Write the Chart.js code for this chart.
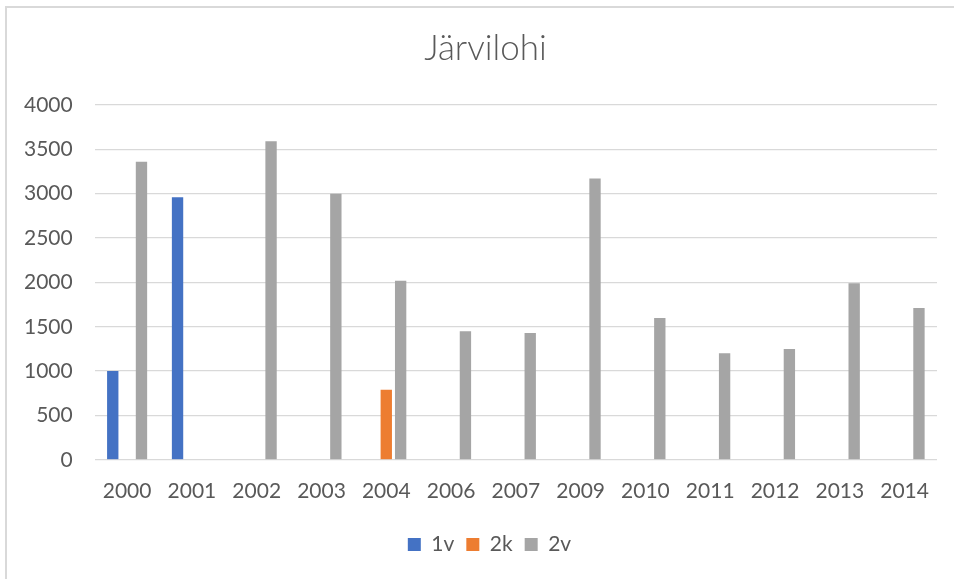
<!DOCTYPE html>
<html>
<head>
<meta charset="utf-8">
<script src="https://cdn.jsdelivr.net/npm/chart.js@4"></script>
<style>
  html, body { margin: 0; padding: 0; background: #fff; overflow: hidden; }
  #wrap { position: relative; width: 954px; height: 579px; }
  #frame { position: absolute; left: 5px; top: 6px; width: 970px; height: 600px;
           border: 2px solid #d9d9d9; box-sizing: border-box; pointer-events: none; }
</style>
</head>
<body>
<div id="wrap">
  <canvas id="chart" width="954" height="579"></canvas>
  <div id="frame"></div>
</div>
<script>
// ----- data -----
const years = ['2000', '2001', '2002', '2003', '2004', '2006', '2007', '2009', '2010', '2011', '2012', '2013', '2014'];

const v1 = [1000, 2960, null, null, null, null, null, null, null, null, null, null, null];
const k2 = [null, null, null, null, 790, null, null, null, null, null, null, null, null];
const v2 = [3360, null, 3590, 3000, 2020, 1450, 1430, 3170, 1600, 1200, 1250, 1990, 1710];

const textColor = '#595959';
const gridColor = '#d9d9d9';
const fontFamily = 'Lato, "Liberation Sans", sans-serif';

function series(label, data, color) {
  return {
    label,
    data,
    backgroundColor: color,
    borderWidth: 0,
    categoryPercentage: 0.665,
    barPercentage: 0.79
  };
}

// Excel centres title and legend on the whole frame, not on the padded box
const centreOnFrame = {
  id: 'centreOnFrame',
  afterLayout(chart) {
    const shift = (box, dx) => { if (box) { box.left += dx; box.right += dx; } };
    shift(chart.titleBlock, 16);
    shift(chart.legend, 20);
  }
};

new Chart(document.getElementById('chart'), {
  type: 'bar',
  data: {
    labels: years,
    datasets: [
      series('1v', v1, '#4472c4'),
      series('2k', k2, '#ed7d31'),
      series('2v', v2, '#a5a5a5')
    ]
  },
  plugins: [centreOnFrame],
  options: {
    responsive: false,
    animation: false,
    layout: { padding: { left: 2, right: 17, top: 0, bottom: 14 } },
    plugins: {
      title: {
        display: true,
        text: 'Järvilohi',
        color: textColor,
        font: { family: fontFamily, size: 35, weight: '300' },
        padding: { top: 28, bottom: 35 }
      },
      legend: {
        position: 'bottom',
        labels: {
          color: textColor,
          font: { family: fontFamily, size: 21 },
          boxWidth: 13,
          boxHeight: 13,
          padding: 12
        }
      },
      tooltip: { enabled: false }
    },
    scales: {
      x: {
        grid: { display: false },
        border: { display: false },
        ticks: { color: textColor, font: { family: fontFamily, size: 21 }, padding: 11, maxRotation: 0 },
        title: { display: true, text: '', font: { size: 7, lineHeight: 1 }, padding: 0 }
      },
      y: {
        min: 0,
        max: 4000,
        ticks: {
          stepSize: 500,
          color: textColor,
          font: { family: fontFamily, size: 21 },
          padding: 22,
          callback: v => String(v)
        },
        grid: { color: gridColor, lineWidth: 1.3, drawTicks: false },
        border: { display: false }
      }
    }
  }
});
</script>
</body>
</html>
